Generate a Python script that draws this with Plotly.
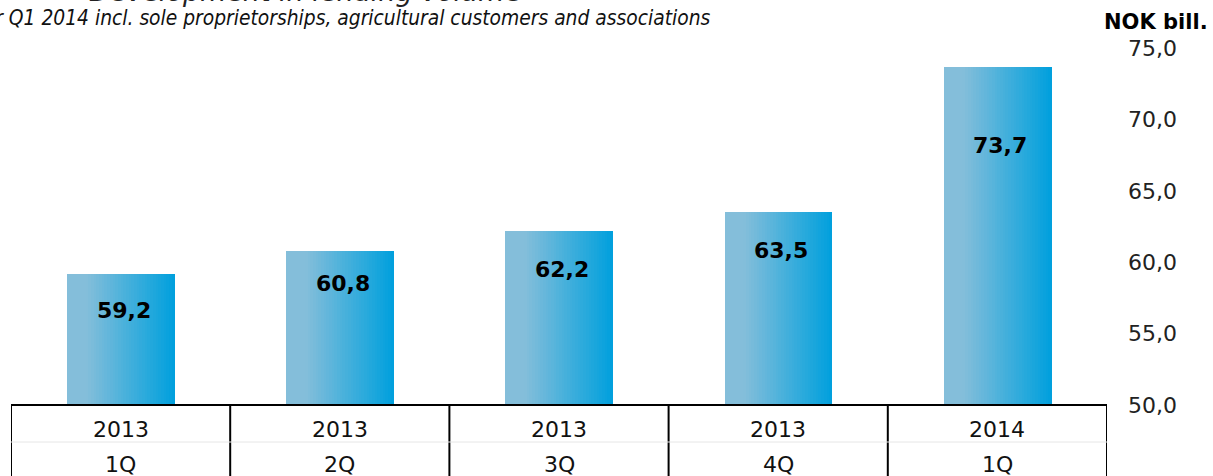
import plotly.graph_objects as go

# ---- data ----
years = ["2013", "2013", "2013", "2013", "2014"]
quarters = ["1Q", "2Q", "3Q", "4Q", "1Q"]
volumes = [59.2, 60.8, 62.2, 63.5, 73.7]
value_labels = ["59,2", "60,8", "62,2", "63,5", "73,7"]
y_ticks = [50, 55, 60, 65, 70, 75]
title_text = "Development in lending volume"
subtitle_text = "For Q1 2014 incl. sole proprietorships, agricultural customers and associations"
unit_text = "NOK bill."

# ---- layout geometry ----
W, H = 1213, 476
ML, MR, MT, MB = 11, 106, 10, 71
PW, PH = W - ML - MR, H - MT - MB
FONT = "DejaVu Sans, Verdana, sans-serif"
Y_MIN = 50
PX_PER_UNIT = 14.28
Y_MAX = Y_MIN + PH / PX_PER_UNIT

cats = [f"{y} {q}" for y, q in zip(years, quarters)]
idx = list(range(len(cats)))

fig = go.Figure()

# gradient bars built from thin slices
bar_w = 0.49
N = 40
c0 = (132, 190, 218)
c1 = (0, 160, 221)
for i in range(N):
    s = (i + 0.5) / N
    t = max(0.0, (s - 0.18) / 0.82)
    col = tuple(round(a + (b - a) * t) for a, b in zip(c0, c1))
    fig.add_trace(go.Bar(
        x=idx, y=volumes,
        width=bar_w / N * 1.15,
        offset=-bar_w / 2 + i * bar_w / N,
        marker=dict(color=f"rgb{col}", line=dict(width=0)),
        showlegend=False, hoverinfo="skip",
    ))

# value labels inside bars
label_drop_px = [37, 33, 39, 38, 79]
for i, (v, lab) in enumerate(zip(volumes, value_labels)):
    fig.add_annotation(x=i, y=v, xref="x", yref="y", text=f"<b>{lab}</b>",
                       showarrow=False, yanchor="middle", yshift=-label_drop_px[i], xshift=3,
                       font=dict(family=FONT, size=22, color="#000"))

# table below the axis
def py(px):
    return (H - MB - px) / PH

for k in range(len(cats) + 1):
    fig.add_shape(type="line", xref="x", yref="paper", x0=k - 0.5, x1=k - 0.5,
                  y0=0, y1=py(H + 10), line=dict(color="#000", width=2))
fig.add_shape(type="line", xref="paper", yref="paper", x0=0, x1=1,
              y0=py(442), y1=py(442), line=dict(color="#e6e6e6", width=1))
fig.add_shape(type="line", xref="paper", yref="paper", x0=0, x1=1,
              y0=0, y1=0, line=dict(color="#000", width=2))
for i in idx:
    fig.add_annotation(x=i, y=py(430), xref="x", yref="paper", text=years[i],
                       showarrow=False, yanchor="middle",
                       font=dict(family=FONT, size=22, color="#111"))
    fig.add_annotation(x=i, y=py(465), xref="x", yref="paper", text=quarters[i],
                       showarrow=False, yanchor="middle",
                       font=dict(family=FONT, size=22, color="#111"))

def px_x(px):
    return (px - ML) / PW

# title (partly cut off at the top, as in the source image)
fig.add_annotation(x=px_x(305), y=py(9), xref="paper", yref="paper", text=f"<i>{title_text}</i>",
                   showarrow=False, xanchor="center", yanchor="bottom",
                   font=dict(family=FONT, size=27, color="#222"))
fig.add_annotation(x=px_x(712), y=py(18), xref="paper", yref="paper", text=f"<i>{subtitle_text}</i>",
                   showarrow=False, xanchor="right", yanchor="middle",
                   font=dict(family="DejaVu Sans Condensed, DejaVu Sans", size=20.8, color="#111"))
fig.add_annotation(x=px_x(1210), y=py(22), xref="paper", yref="paper", text=f"<b>{unit_text}</b>",
                   showarrow=False, xanchor="right", yanchor="middle",
                   font=dict(family=FONT, size=21, color="#000"))

fig.update_layout(
    width=W, height=H,
    margin=dict(l=ML, r=MR, t=MT, b=MB, pad=0),
    paper_bgcolor="white", plot_bgcolor="white",
    barmode="overlay", bargap=0,
    separators=", ",
    xaxis=dict(range=[-0.5, len(cats) - 0.5], showticklabels=False, showgrid=False,
               zeroline=False, showline=False, ticks="", fixedrange=True),
    yaxis=dict(side="right", range=[Y_MIN, Y_MAX], tickvals=y_ticks, tickformat=".1f",
               showgrid=False, zeroline=False, showline=False, ticks="",
               ticklabelstandoff=20,
               tickfont=dict(family=FONT, size=22, color="#222")),
)

fig.write_html("out.html")
